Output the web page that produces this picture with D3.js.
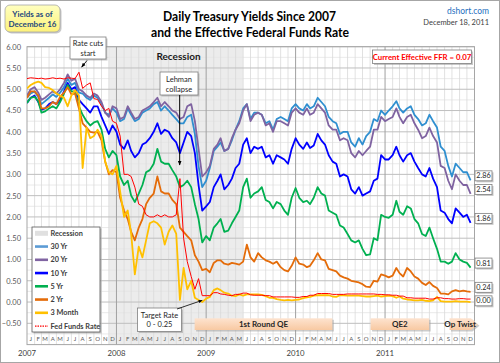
<!DOCTYPE html>
<html>
<head>
<meta charset="utf-8">
<script src="https://cdn.jsdelivr.net/npm/d3@7"></script>
<style>
  body { margin: 0; background: #fff; }
  svg { display: block; font-family: Lato, "Open Sans", sans-serif; }
</style>
</head>
<body>
<div id="chart"></div>
<script>
// Readings taken off the chart twice a month (1st and 16th), Jan 2007 - Dec 2011.
const y30 = [
  4.80, 4.90, 4.95, 4.82, 4.65, 4.72, 4.80, 4.88, 4.82, 4.92, 5.05, 5.25, 5.10, 5.15, 4.92, 4.90, 4.80, 4.75, 4.85, 4.80, 4.65, 4.45, 4.40, 4.55,
  4.45, 4.25, 4.30, 4.55, 4.40, 4.25, 4.30, 4.45, 4.50, 4.55, 4.65, 4.70, 4.50, 4.60, 4.50, 4.40, 4.30, 4.20, 4.20, 4.35, 4.40, 3.95, 3.20, 2.70,
  2.85, 3.15, 3.55, 3.65, 3.75, 3.55, 3.60, 3.80, 4.05, 4.25, 4.55, 4.65, 4.30, 4.45, 4.45, 4.40, 4.20, 4.25, 4.05, 4.30, 4.35, 4.30, 4.25, 4.55,
  4.65, 4.55, 4.50, 4.65, 4.55, 4.60, 4.80, 4.70, 4.60, 4.35, 4.25, 4.20, 3.95, 4.00, 4.00, 3.75, 3.65, 3.85, 3.70, 3.90, 4.00, 4.30, 4.25, 4.50,
  4.40, 4.50, 4.60, 4.72, 4.55, 4.45, 4.55, 4.60, 4.40, 4.30, 4.15, 4.20, 4.40, 4.25, 4.10, 3.65, 3.55, 3.20, 2.95, 3.25, 3.15, 3.05, 3.05, 2.86
];
const y20 = [
  4.85, 5.00, 5.05, 4.92, 4.75, 4.80, 4.88, 4.95, 4.90, 5.00, 5.15, 5.35, 5.20, 5.25, 5.00, 4.95, 4.85, 4.80, 4.90, 4.85, 4.70, 4.45, 4.35, 4.60,
  4.55, 4.30, 4.35, 4.60, 4.45, 4.30, 4.35, 4.50, 4.55, 4.60, 4.70, 4.80, 4.60, 4.70, 4.60, 4.50, 4.45, 4.30, 4.35, 4.60, 4.65, 4.25, 3.60, 2.95,
  3.05, 3.20, 3.60, 3.70, 3.85, 3.55, 3.60, 3.85, 4.05, 4.20, 4.50, 4.65, 4.25, 4.40, 4.45, 4.40, 4.15, 4.20, 4.00, 4.25, 4.25, 4.20, 4.15, 4.45,
  4.55, 4.45, 4.40, 4.55, 4.40, 4.45, 4.65, 4.55, 4.45, 4.15, 4.05, 4.05, 3.80, 3.85, 3.80, 3.50, 3.40, 3.55, 3.45, 3.55, 3.65, 4.05, 4.05, 4.35,
  4.25, 4.30, 4.35, 4.55, 4.35, 4.20, 4.35, 4.40, 4.20, 4.05, 3.85, 3.90, 4.10, 3.90, 3.75, 3.20, 3.15, 2.85, 2.65, 3.00, 2.85, 2.75, 2.75, 2.54
];
const y10 = [
  4.68, 4.80, 4.85, 4.70, 4.52, 4.55, 4.65, 4.70, 4.65, 4.75, 4.95, 5.15, 5.00, 5.05, 4.75, 4.65, 4.55, 4.45, 4.60, 4.60, 4.35, 4.15, 3.95, 4.15,
  4.00, 3.70, 3.60, 3.80, 3.55, 3.40, 3.50, 3.70, 3.75, 3.85, 4.00, 4.20, 3.95, 4.05, 4.00, 3.85, 3.75, 3.50, 3.75, 4.00, 3.90, 3.50, 2.75, 2.15,
  2.25, 2.35, 2.70, 2.85, 3.00, 2.65, 2.75, 2.90, 3.15, 3.25, 3.70, 3.85, 3.50, 3.65, 3.60, 3.65, 3.40, 3.45, 3.25, 3.45, 3.40, 3.35, 3.25, 3.60,
  3.85, 3.70, 3.60, 3.75, 3.62, 3.68, 3.95, 3.80, 3.70, 3.45, 3.30, 3.25, 2.95, 3.00, 2.95, 2.65, 2.55, 2.70, 2.50, 2.55, 2.60, 2.85, 2.90, 3.45,
  3.35, 3.35, 3.45, 3.65, 3.45, 3.30, 3.45, 3.50, 3.30, 3.15, 3.00, 2.95, 3.15, 2.90, 2.70, 2.15, 2.10, 1.95, 1.85, 2.20, 2.10, 2.00, 2.05, 1.86
];
const y5 = [
  4.68, 4.80, 4.82, 4.72, 4.45, 4.48, 4.55, 4.60, 4.55, 4.70, 4.90, 5.10, 4.95, 4.95, 4.60, 4.40, 4.25, 4.15, 4.22, 4.25, 4.05, 3.60, 3.40, 3.55,
  3.45, 2.95, 2.75, 2.85, 2.50, 2.35, 2.55, 2.75, 3.05, 3.10, 3.25, 3.60, 3.30, 3.25, 3.25, 3.10, 2.95, 2.70, 2.75, 2.85, 2.70, 2.30, 1.95, 1.40,
  1.55, 1.45, 1.75, 1.85, 1.95, 1.65, 1.68, 1.85, 2.00, 2.15, 2.70, 2.90, 2.45, 2.55, 2.60, 2.70, 2.40, 2.35, 2.20, 2.35, 2.30, 2.15, 2.05, 2.45,
  2.68, 2.45, 2.35, 2.38, 2.30, 2.45, 2.70, 2.55, 2.50, 2.15, 2.10, 2.05, 1.80, 1.75, 1.60, 1.45, 1.40, 1.45, 1.25, 1.10, 1.12, 1.50, 1.45, 2.05,
  2.00, 1.98, 2.05, 2.38, 2.12, 2.05, 2.25, 2.20, 1.95, 1.85, 1.60, 1.55, 1.75, 1.50, 1.25, 0.95, 0.95, 0.90, 0.95, 1.15, 1.00, 0.95, 0.92, 0.81
];
const y2 = [
  4.80, 4.95, 4.95, 4.85, 4.55, 4.55, 4.60, 4.70, 4.65, 4.82, 4.92, 5.05, 4.88, 4.90, 4.55, 4.20, 4.10, 4.00, 3.98, 4.00, 3.80, 3.30, 3.00, 3.10,
  3.05, 2.45, 2.15, 1.95, 1.65, 1.45, 1.75, 1.95, 2.30, 2.45, 2.55, 2.95, 2.60, 2.55, 2.55, 2.40, 2.30, 1.75, 1.65, 1.55, 1.45, 1.10, 0.95, 0.75,
  0.78, 0.70, 0.92, 0.98, 0.98, 0.90, 0.88, 0.92, 0.90, 0.88, 0.95, 1.35, 1.05, 0.95, 1.15, 1.05, 0.98, 0.95, 0.90, 0.95, 0.82, 0.75, 0.72, 0.85,
  1.05, 0.90, 0.88, 0.82, 0.85, 0.98, 1.15, 1.00, 0.98, 0.78, 0.75, 0.72, 0.62, 0.58, 0.55, 0.50, 0.48, 0.46, 0.42, 0.36, 0.35, 0.50, 0.48, 0.65,
  0.62, 0.58, 0.62, 0.80, 0.68, 0.60, 0.80, 0.72, 0.60, 0.55, 0.45, 0.40, 0.47, 0.38, 0.33, 0.20, 0.20, 0.18, 0.25, 0.28, 0.25, 0.27, 0.25, 0.24
];
const m3 = [
  5.02, 5.10, 5.15, 5.18, 5.15, 5.05, 5.03, 4.98, 4.90, 4.85, 4.80, 4.60, 4.85, 4.98, 4.85, 3.15, 4.10, 3.85, 3.90, 4.05, 3.90, 3.30, 3.05, 3.00,
  3.20, 2.60, 2.00, 2.15, 1.60, 0.65, 1.30, 1.05, 1.45, 1.85, 1.90, 1.85, 1.75, 1.35, 1.65, 1.80, 1.60, 0.05, 0.80, 0.30, 0.50, 0.10, 0.05, 0.00,
  0.08, 0.12, 0.28, 0.32, 0.28, 0.22, 0.20, 0.15, 0.14, 0.18, 0.15, 0.18, 0.18, 0.18, 0.18, 0.17, 0.14, 0.10, 0.10, 0.07, 0.05, 0.04, 0.05, 0.04,
  0.05, 0.06, 0.09, 0.11, 0.12, 0.15, 0.16, 0.16, 0.16, 0.16, 0.13, 0.12, 0.16, 0.16, 0.15, 0.15, 0.15, 0.15, 0.14, 0.13, 0.13, 0.14, 0.15, 0.13,
  0.14, 0.15, 0.14, 0.10, 0.13, 0.08, 0.06, 0.05, 0.04, 0.04, 0.05, 0.03, 0.02, 0.04, 0.12, 0.02, 0.01, 0.01, 0.01, 0.02, 0.01, 0.01, 0.01, 0.00
];
const ffr = [
  5.25, 5.27, 5.26, 5.25, 5.26, 5.24, 5.25, 5.27, 5.25, 5.26, 5.24, 5.27, 5.26, 5.25, 5.40, 5.02, 5.10, 5.15, 4.78, 4.76, 4.60, 4.50, 4.55, 4.25,
  4.20, 3.90, 3.00, 3.00, 2.95, 2.70, 2.30, 2.25, 2.05, 2.00, 2.00, 2.05, 2.00, 2.05, 2.00, 2.00, 2.05, 2.90, 1.50, 0.95, 0.60, 0.30, 0.55, 0.15,
  0.15, 0.15, 0.22, 0.22, 0.19, 0.18, 0.16, 0.15, 0.18, 0.18, 0.21, 0.21, 0.17, 0.16, 0.16, 0.16, 0.15, 0.15, 0.12, 0.12, 0.12, 0.12, 0.12, 0.12,
  0.11, 0.11, 0.13, 0.13, 0.16, 0.16, 0.20, 0.20, 0.20, 0.20, 0.18, 0.18, 0.18, 0.18, 0.19, 0.19, 0.19, 0.19, 0.19, 0.19, 0.19, 0.19, 0.18, 0.18,
  0.17, 0.17, 0.16, 0.16, 0.14, 0.14, 0.10, 0.10, 0.09, 0.09, 0.09, 0.09, 0.07, 0.07, 0.10, 0.10, 0.08, 0.08, 0.07, 0.07, 0.08, 0.08, 0.07, 0.07
];

const seriesNames = ["30 Yr", "20 Yr", "10 Yr", "5 Yr", "2 Yr", "3 Month", "Fed Funds Rate"];
const seriesValues = [y30, y20, y10, y5, y2, m3, ffr];
const seriesColors = ["#2f8fd0", "#7f63a1", "#0000ff", "#00b050", "#e46c0a", "#ffc000", "#ff0000"];

const yTicks = [-0.5, 0, 0.5, 1, 1.5, 2, 2.5, 3, 3.5, 4, 4.5, 5, 5.5, 6];
const years = [2007, 2008, 2009, 2010, 2011];
const monthLetters = ["J", "F", "M", "A", "M", "J", "J", "A", "S", "O", "N", "D"];

const recession = ["2007-12-01", "2009-06-01"];
const programNames = ["1st Round QE", "QE2", "Op Twist"];
const programStarts = ["2008-11-15", "2010-11-03", "2011-09-21"];
const programEnds = ["2010-05-31", "2011-06-30", "2012-01-15"];

const parse = d3.utcParse("%Y-%m-%d");
const fmt = d3.format(".2f");

// the readings fall on the 1st and 16th of each month
const dates = d3.utcMonth.range(new Date(Date.UTC(2007, 0, 1)), new Date(Date.UTC(2012, 0, 1)))
    .flatMap(m => [m, d3.utcDay.offset(m, 15)]);

const width = 500, height = 363;
const plot = {left: 27, right: 474.5, top: 46.7, bottom: 344.6};

const x = d3.scaleUtc()
    .domain([new Date(Date.UTC(2007, 0, 1)), new Date(Date.UTC(2012, 0, 1))])
    .range([plot.left, plot.right]);

const y = d3.scaleLinear()
    .domain([-1, 6])
    .range([plot.bottom, plot.top]);

const svg = d3.select("#chart").append("svg")
    .attr("width", width)
    .attr("height", height);

const defs = svg.append("defs");

defs.append("clipPath").attr("id", "plotclip")
    .append("rect")
    .attr("x", plot.left).attr("y", plot.top)
    .attr("width", plot.right - plot.left).attr("height", plot.bottom - plot.top);

defs.append("marker")
    .attr("id", "arrow")
    .attr("viewBox", "0 0 10 10")
    .attr("refX", 9).attr("refY", 5)
    .attr("markerWidth", 5).attr("markerHeight", 5)
    .attr("orient", "auto")
    .append("path")
    .attr("d", "M0,1 L10,5 L0,9 Z")
    .attr("fill", "#000");

const peach = defs.append("linearGradient")
    .attr("id", "peach").attr("x1", 0).attr("y1", 0).attr("x2", 0).attr("y2", 1);
peach.append("stop").attr("offset", "0%").attr("stop-color", "#fde3cf");
peach.append("stop").attr("offset", "100%").attr("stop-color", "#f8c9a2");

const yellow = defs.append("linearGradient")
    .attr("id", "yellow").attr("x1", 0).attr("y1", 0).attr("x2", 0).attr("y2", 1);
yellow.append("stop").attr("offset", "0%").attr("stop-color", "#ffffc0");
yellow.append("stop").attr("offset", "100%").attr("stop-color", "#fdf27a");

// Outer frame.
svg.append("rect")
    .attr("x", 0.5).attr("y", 0.5)
    .attr("width", width - 1).attr("height", height - 1)
    .attr("fill", "#fff").attr("stroke", "#a6a6a6");

// Recession band.
svg.append("rect")
    .attr("x", x(parse(recession[0])))
    .attr("y", plot.top)
    .attr("width", x(parse(recession[1])) - x(parse(recession[0])))
    .attr("height", plot.bottom - plot.top)
    .attr("fill", "#ececec");

// Grid: months and years vertically, quarter points horizontally.
const grid = svg.append("g");
const months = d3.utcMonth.range(x.domain()[0], x.domain()[1]);

grid.selectAll("line.minor-y")
    .data(d3.range(-0.75, 6, 0.25).filter(v => Math.abs(v * 2 - Math.round(v * 2)) > 0.01))
    .join("line")
    .attr("x1", plot.left).attr("x2", plot.right)
    .attr("y1", d => y(d)).attr("y2", d => y(d))
    .attr("stroke", "#e4e4e4").attr("stroke-width", 0.8);

grid.selectAll("line.month")
    .data(months.filter(m => m.getUTCMonth() !== 0))
    .join("line")
    .attr("x1", d => x(d)).attr("x2", d => x(d))
    .attr("y1", plot.top).attr("y2", plot.bottom)
    .attr("stroke", "#d9d9d9").attr("stroke-width", 0.8);

grid.selectAll("line.major-y")
    .data(yTicks)
    .join("line")
    .attr("x1", plot.left).attr("x2", plot.right)
    .attr("y1", d => y(d)).attr("y2", d => y(d))
    .attr("stroke", "#bfbfbf").attr("stroke-width", 1);

grid.selectAll("line.year")
    .data(years.slice(1).map(yr => new Date(Date.UTC(yr, 0, 1))))
    .join("line")
    .attr("x1", d => x(d)).attr("x2", d => x(d))
    .attr("y1", plot.top).attr("y2", plot.bottom)
    .attr("stroke", "#a0a0a0").attr("stroke-width", 1);

// Plot frame.
svg.append("rect")
    .attr("x", plot.left).attr("y", plot.top)
    .attr("width", plot.right - plot.left).attr("height", plot.bottom - plot.top)
    .attr("fill", "none").attr("stroke", "#a6a6a6");

// Y axis labels.
svg.append("g")
    .attr("transform", "translate(" + plot.left + ",0)")
    .call(d3.axisLeft(y).tickValues(yTicks).tickFormat(fmt).tickSize(0).tickPadding(6))
    .call(g => g.select(".domain").remove())
    .selectAll("text")
    .attr("fill", "#595959")
    .style("font-size", "7.5px")
    .style("font-family", "Lato, sans-serif");

// Month letters inside the bottom band, years below.
svg.append("g").selectAll("text")
    .data(months)
    .join("text")
    .attr("x", d => x(d3.utcDay.offset(d, 15)))
    .attr("y", 340.5)
    .attr("text-anchor", "middle")
    .attr("fill", "#595959")
    .style("font-size", "6px")
    .text(d => monthLetters[d.getUTCMonth()]);

svg.append("g").selectAll("text")
    .data(years)
    .join("text")
    .attr("x", d => x(new Date(Date.UTC(d, 0, 1))))
    .attr("y", 355.5)
    .attr("text-anchor", "middle")
    .attr("fill", "#404040")
    .style("font-size", "7.8px")
    .text(d => d);

// Yield lines.
const line = d3.line()
    .x((d, i) => x(dates[i]))
    .y(d => y(d));

svg.append("g")
    .attr("clip-path", "url(#plotclip)")
    .selectAll("path")
    .data(seriesValues)
    .join("path")
    .attr("d", d => line(d))
    .attr("fill", "none")
    .attr("stroke", (d, i) => seriesColors[i])
    .attr("stroke-width", (d, i) => i === 6 ? 1 : 1.8)
    .attr("stroke-linejoin", "round");

// A box with an Excel-like drop shadow.
function box(x0, y0, w, h, fill, stroke, rx) {
    svg.append("rect")
        .attr("x", x0 + 1.5).attr("y", y0 + 1.5)
        .attr("width", w).attr("height", h).attr("rx", rx || 0)
        .attr("fill", "#9a9a9a").attr("opacity", 0.55);
    return svg.append("rect")
        .attr("x", x0).attr("y", y0)
        .attr("width", w).attr("height", h).attr("rx", rx || 0)
        .attr("fill", fill).attr("stroke", stroke).attr("stroke-width", 0.8);
}

function label(tx, ty, txt, opts) {
    opts = opts || {};
    const t = svg.append("text")
        .attr("x", tx).attr("y", ty)
        .attr("text-anchor", opts.anchor || "middle")
        .attr("dominant-baseline", "central")
        .attr("fill", opts.color || "#262626")
        .style("font-size", (opts.size || 8) + "px")
        .style("font-weight", opts.weight || "normal")
        .text(txt);
    if (opts.fit) t.attr("textLength", opts.fit).attr("lengthAdjust", "spacingAndGlyphs");
    return t;
}

// Title block.
label(249.5, 15, "Daily Treasury Yields Since 2007", {size: 14, weight: "bold", color: "#000", fit: 173});
label(250, 31, "and the Effective Federal Funds Rate", {size: 14, weight: "bold", color: "#000", fit: 198});
label(489, 11, "dshort.com", {anchor: "end", size: 8.5, color: "#1f6fc0"});
label(489, 22, "December 18, 2011", {anchor: "end", size: 7.5, color: "#404040"});

box(5, 5, 55, 27, "url(#yellow)", "#a6a6a6", 5);
label(32.5, 13.5, "Yields as of", {size: 8, weight: "bold", color: "#1f497d"});
label(32.5, 24, "December 16", {size: 8, weight: "bold", color: "#1f497d"});

// Recession caption.
label(178.5, 56, "Recession", {size: 10, weight: "bold", color: "#1a1a1a"});

// Rate cuts arrow.
box(70, 37, 36, 22, "#fff", "#7f7f7f");
label(88, 43.5, "Rate cuts", {size: 7.5});
label(88, 53, "start", {size: 7.5});
svg.append("line")
    .attr("x1", 87).attr("y1", 60.5)
    .attr("x2", x(parse("2007-08-12"))).attr("y2", y(5.52))
    .attr("stroke", "#000").attr("stroke-width", 0.9)
    .attr("marker-end", "url(#arrow)");

// Lehman arrow.
box(160, 72, 38, 23, "#fff", "#7f7f7f");
label(179, 79, "Lehman", {size: 7.5});
label(179, 89, "collapse", {size: 7.5});
svg.append("line")
    .attr("x1", x(parse("2008-09-15"))).attr("y1", 95)
    .attr("x2", x(parse("2008-09-15"))).attr("y2", y(3.22))
    .attr("stroke", "#000").attr("stroke-width", 1)
    .attr("marker-end", "url(#arrow)");

// Current FFR call-out.
box(372.5, 50, 99, 13.5, "#fff", "#7f7f7f");
label(422, 56.8, "Current Effective FFR = " + fmt(ffr[ffr.length - 1]), {size: 7.8, weight: "bold", color: "#ff0000"});

// Program banners along the bottom.
programNames.forEach((name, i) => {
    const x0 = x(parse(programStarts[i]));
    const x1 = Math.min(x(parse(programEnds[i])), 495);
    const top = 318.3, h = 11.7;
    if (i === programNames.length - 1) {
        const body = x1 - 7;
        const pts = [[x0, top], [body, top], [x1, top + h / 2], [body, top + h], [x0, top + h]];
        svg.append("polygon")
            .attr("points", pts.map(p => (p[0] + 1.5) + "," + (p[1] + 1.5)).join(" "))
            .attr("fill", "#9a9a9a").attr("opacity", 0.5);
        svg.append("polygon")
            .attr("points", pts.map(p => p.join(",")).join(" "))
            .attr("fill", "url(#peach)");
        label((x0 + body) / 2, top + h / 2, name, {size: 8, weight: "bold"});
    } else {
        svg.append("rect")
            .attr("x", x0 + 1.5).attr("y", top + 1.5).attr("width", x1 - x0).attr("height", h)
            .attr("fill", "#9a9a9a").attr("opacity", 0.5);
        svg.append("rect")
            .attr("x", x0).attr("y", top).attr("width", x1 - x0).attr("height", h)
            .attr("fill", "url(#peach)");
        label((x0 + x1) / 2, top + h / 2, name, {size: 8, weight: "bold"});
    }
});

// Target rate call-out.
box(137.5, 308, 44, 23.5, "#fff", "#7f7f7f");
label(159.5, 315.5, "Target Rate", {size: 7.5});
label(159.5, 324.5, "0 - 0.25", {size: 7.5});
svg.append("line")
    .attr("x1", 177).attr("y1", 309)
    .attr("x2", x(parse("2008-12-16"))).attr("y2", y(0.04))
    .attr("stroke", "#000").attr("stroke-width", 0.8)
    .attr("marker-end", "url(#arrow)");

// Legend.
box(32, 227, 68, 105, "#fff", "#595959");
const legendItems = ["Recession"].concat(seriesNames);
const legendColors = ["#e0e0e0"].concat(seriesColors.map((c, i) => i === 0 ? "#5b9bd5" : i === 1 ? "#8064a2" : c));
legendItems.forEach((name, i) => {
    const ly = 233.3 + i * 13.25;
    svg.append("line")
        .attr("x1", 35).attr("x2", 48)
        .attr("y1", ly).attr("y2", ly)
        .attr("stroke", legendColors[i])
        .attr("stroke-width", i === 0 ? 5 : i === 7 ? 1.3 : 2.6)
        .attr("stroke-dasharray", i === 7 ? "1.5,1" : null);
    label(50.5, ly, name, {anchor: "start", size: 7.3, weight: "bold", color: "#404040"});
});

// End-of-series value tags, nudged apart where they would overlap.
const tags = seriesValues.slice(0, 6).map(v => ({v: v[v.length - 1], ty: y(v[v.length - 1]) - 4.5}));
tags.sort((a, b) => a.ty - b.ty);
for (let i = 1; i < tags.length; i++) {
    if (tags[i].ty - tags[i - 1].ty < 13.5) tags[i].ty = tags[i - 1].ty + 13.5;
}
tags.forEach(t => {
    box(475, t.ty - 5, 17, 10, "#fff", "#7f7f7f");
    label(483.5, t.ty, fmt(t.v), {size: 7.3, color: "#262626"});
});
</script>
</body>
</html>
